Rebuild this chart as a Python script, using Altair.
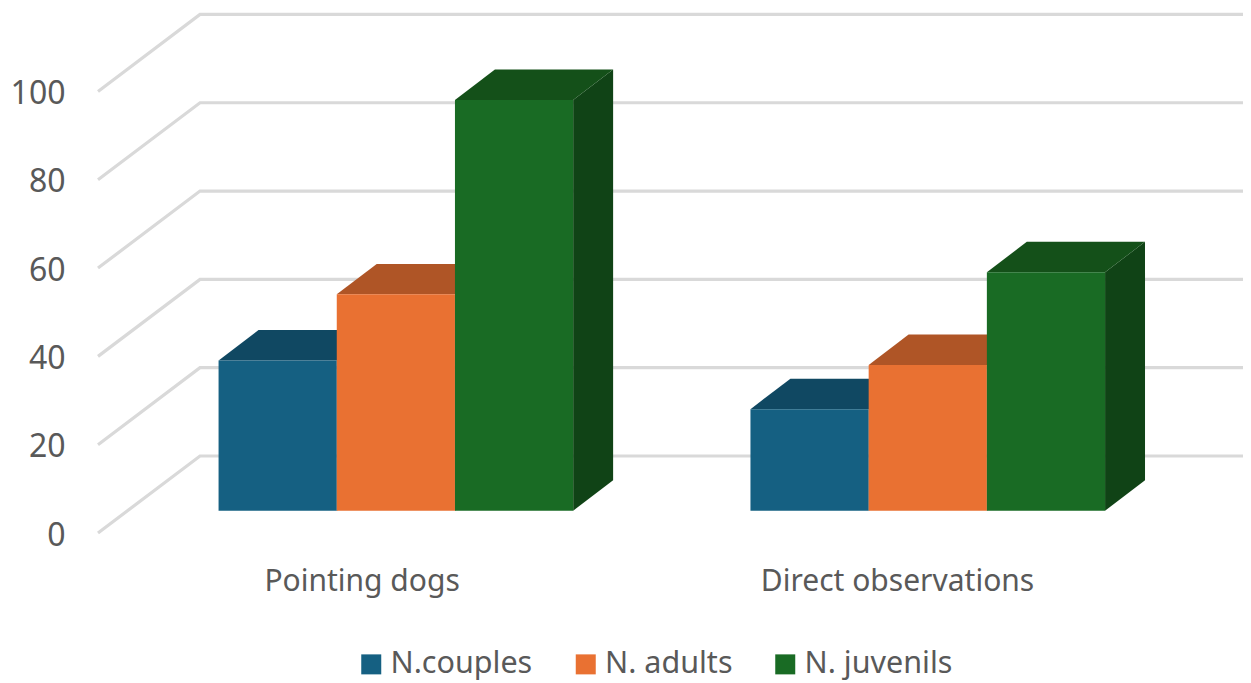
import altair as alt
import pandas as pd

# Values
categories = ["Pointing dogs", "Direct observations"]
series = ["N.couples", "N. adults", "N. juvenils"]
couples = [34, 23]
adults = [49, 33]
juvenils = [93, 54]
front_colors = ["#156082", "#E97132", "#196B24"]
top_colors = ["#104862", "#AF5526", "#145019"]
side_colors = ["#0E4057", "#9C4C22", "#104316"]
ticks = [0, 20, 40, 60, 80, 100]

# 3-D projection, in data units (bar widths on x, chart units on y)
GROUP_STEP = 4.5
GROUP_START = 1.02
WALL_DX, WALL_DY = 0.863, 17.44
BAR_DX, BAR_DY = 0.338, 6.9
BAR_BASE = 5.05
X_MAX = 1145 / 118.2
Y_MAX = 118.9
FONT = "Noto Sans"
TEXT = "#595959"
GRID = "#D9D9D9"

x_scale = alt.Scale(domain=[0, X_MAX], range=[0, 1145], nice=False, zero=False)
y_scale = alt.Scale(domain=[0, Y_MAX], range=[525, 0], nice=False, zero=False)

values = [couples, adults, juvenils]
front, top, side = [], [], []
for g, cat in enumerate(categories):
    for s, name in enumerate(series):
        v = values[s][g]
        x0 = GROUP_START + g * GROUP_STEP + s
        x1 = x0 + 1
        yb, yt = BAR_BASE, BAR_BASE + v
        key = f"{g}-{s}"
        front.append(dict(x=x0, x2=x1, y=yb, y2=yt, series=name))
        top += [
            dict(key=key, c=top_colors[s], x=x0, x2=x1, y=yt),
            dict(key=key, c=top_colors[s], x=x0 + BAR_DX, x2=x1 + BAR_DX, y=yt + BAR_DY),
        ]
        side += [
            dict(key=key, c=side_colors[s], x=x1, y=yb, y2=yt),
            dict(key=key, c=side_colors[s], x=x1 + BAR_DX, y=yb + BAR_DY, y2=yt + BAR_DY),
        ]

grid = []
for t in ticks:
    grid += [
        dict(t=t, x=0, y=t),
        dict(t=t, x=WALL_DX, y=t + WALL_DY),
        dict(t=t, x=X_MAX, y=t + WALL_DY),
    ]

label_x = [2.23, 6.76]
label_expr = f"datum.value == {label_x[0]} ? '{categories[0]}' : '{categories[1]}'"

grid_layer = alt.Chart(pd.DataFrame(grid)).mark_line(color=GRID, strokeWidth=3.2).encode(
    x=alt.X("x:Q", scale=x_scale, axis=alt.Axis(
        values=label_x, labelExpr=label_expr, title=None, domain=False, ticks=False,
        grid=False, labelPadding=33, labelFont=FONT, labelFontSize=30, labelColor=TEXT,
        labelAlign="center", labelOverlap=False, labelFlush=False, labelLimit=400)),
    y=alt.Y("y:Q", scale=y_scale, axis=alt.Axis(
        values=ticks, title=None, domain=False, ticks=False, grid=False, labelOffset=2,
        labelPadding=33, labelFont=FONT, labelFontSize=32, labelColor=TEXT)),
    detail="t:N",
)

side_layer = alt.Chart(pd.DataFrame(side)).mark_area(orient="vertical").encode(
    x=alt.X("x:Q", scale=x_scale),
    y=alt.Y("y:Q", scale=y_scale, stack=None),
    y2="y2:Q",
    fill=alt.Fill("c:N", scale=None),
    detail="key:N",
)

top_layer = alt.Chart(pd.DataFrame(top)).mark_area(orient="horizontal").encode(
    y=alt.Y("y:Q", scale=y_scale),
    x=alt.X("x:Q", scale=x_scale, stack=None),
    x2="x2:Q",
    fill=alt.Fill("c:N", scale=None),
    detail="key:N",
)

front_layer = alt.Chart(pd.DataFrame(front)).mark_rect().encode(
    x=alt.X("x:Q", scale=x_scale),
    x2="x2:Q",
    y=alt.Y("y:Q", scale=y_scale),
    y2="y2:Q",
    color=alt.Color("series:N", sort=series,
                    scale=alt.Scale(domain=series, range=front_colors),
                    legend=alt.Legend(
                        title=None, orient="none", direction="horizontal",
                        legendX=258, legendY=641, symbolType="square", symbolSize=400,
                        symbolStrokeWidth=0, labelFont=FONT, labelFontSize=30.5,
                        labelColor=TEXT, columnPadding=37.5, labelOffset=4,
                        values=series, labelLimit=300)),
)

chart = alt.layer(grid_layer, side_layer, top_layer, front_layer).resolve_scale(
    x="shared", y="shared"
).properties(
    width=1145, height=525,
    padding={"left": 90, "top": 0, "right": 0, "bottom": 150},
    autosize=alt.AutoSizeParams(type="none", contains="content"),
    background="white",
).configure_view(stroke=None)

chart.save("out.html", embed_options={"renderer": "svg", "actions": False})
